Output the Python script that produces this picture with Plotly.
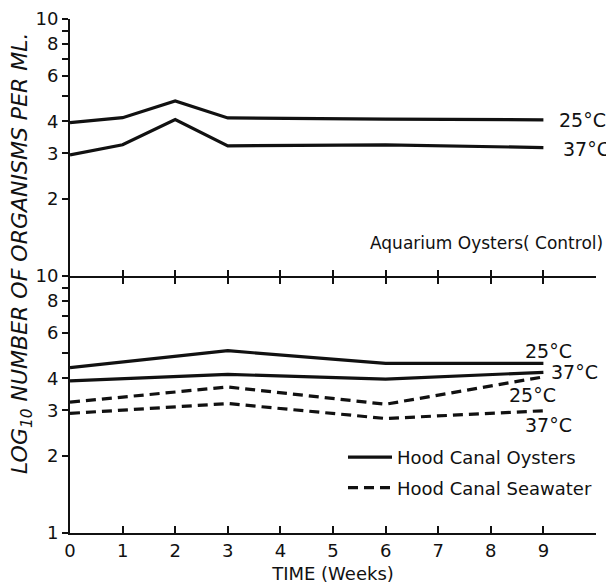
import math
import plotly.graph_objects as go

# ---------------- data ----------------
weeks_ctrl = [0, 1, 2, 3, 6, 9]
ctrl_25 = [3.95, 4.13, 4.80, 4.12, 4.08, 4.05]
ctrl_37 = [2.96, 3.24, 4.06, 3.21, 3.24, 3.16]

weeks_hc = [0, 3, 6, 9]
oysters_25 = [4.40, 5.12, 4.57, 4.57]
oysters_37 = [3.91, 4.14, 3.97, 4.22]
seawater_25 = [3.23, 3.70, 3.17, 4.05]
seawater_37 = [2.92, 3.19, 2.79, 2.99]

x_ticks = [0, 1, 2, 3, 4, 5, 6, 7, 8, 9]
y_ticks = [1, 2, 3, 4, 5, 6, 7, 8, 9, 10]
y_ticktext_low = ["1", "2", "3", "4", " ", "6", " ", "8", " ", "10"]
y_ticktext_up = [" ", "2", "3", "4", " ", "6", " ", "8", " ", "10"]

FONT = "DejaVu Sans"
INK = "#111111"
LW = 3.2
DASH = "10px,6px"

fig = go.Figure()

# upper panel (Aquarium oysters control)
fig.add_trace(go.Scatter(x=weeks_ctrl, y=ctrl_25, mode="lines", xaxis="x2", yaxis="y2",
                         line=dict(color=INK, width=LW), showlegend=False))
fig.add_trace(go.Scatter(x=weeks_ctrl, y=ctrl_37, mode="lines", xaxis="x2", yaxis="y2",
                         line=dict(color=INK, width=LW), showlegend=False))
fig.add_trace(go.Scatter(x=[None], y=[None], mode="lines", xaxis="x3", yaxis="y2",
                         showlegend=False, hoverinfo="skip"))

# lower panel (Hood Canal)
fig.add_trace(go.Scatter(x=weeks_hc, y=oysters_25, mode="lines", name="Hood Canal Oysters",
                         legendgroup="oys", showlegend=True,
                         line=dict(color=INK, width=LW)))
fig.add_trace(go.Scatter(x=weeks_hc, y=oysters_37, mode="lines", name="Hood Canal Oysters",
                         legendgroup="oys", showlegend=False,
                         line=dict(color=INK, width=LW)))
fig.add_trace(go.Scatter(x=weeks_hc, y=seawater_25, mode="lines", name="Hood Canal Seawater",
                         legendgroup="sw", showlegend=True,
                         line=dict(color=INK, width=LW, dash=DASH)))
fig.add_trace(go.Scatter(x=weeks_hc, y=seawater_37, mode="lines", name="Hood Canal Seawater",
                         legendgroup="sw", showlegend=False,
                         line=dict(color=INK, width=LW, dash=DASH)))

tickfont = dict(family=FONT, size=18, color=INK)

yaxis_common = dict(type="log", range=[0, 1], showline=True, linecolor=INK, linewidth=2,
                    ticks="outside", ticklen=6, tickwidth=2, tickcolor=INK,
                    showgrid=False, zeroline=False, tickfont=tickfont, automargin=False,
                    ticklabeloverflow="allow",
                    tickmode="array", tickvals=y_ticks, fixedrange=True)

# page body has an 8px margin, so the figure is sized to fit the 614x588 window
fig.update_layout(
    width=606, height=580,
    margin=dict(l=62, r=18, t=11, b=55, autoexpand=False),
    paper_bgcolor="white", plot_bgcolor="white",
    xaxis=dict(domain=[0, 1], range=[0, 10], anchor="y", showline=True, linecolor=INK,
               linewidth=2, ticks="inside", ticklen=7, tickwidth=2, tickcolor=INK,
               tickmode="array", tickvals=x_ticks, showgrid=False, zeroline=False,
               tickfont=tickfont, automargin=False,
               title=dict(text="TIME (Weeks)", font=dict(family=FONT, size=18, color=INK),
                          standoff=8)),
    xaxis2=dict(domain=[0, 1], range=[0, 10], anchor="y2", showline=True, linecolor=INK,
                linewidth=2, ticks="outside", ticklen=6, tickwidth=2, tickcolor=INK,
                tickmode="array", tickvals=x_ticks[1:], showticklabels=False,
                showgrid=False, zeroline=False, automargin=False),
    xaxis3=dict(range=[0, 10], anchor="y2", overlaying="x2", side="bottom", showline=False,
                ticks="inside", ticklen=6, tickwidth=2, tickcolor=INK,
                tickmode="array", tickvals=x_ticks[1:], showticklabels=False,
                showgrid=False, zeroline=False, automargin=False),
    yaxis=dict(domain=[0, 0.5], anchor="x", ticktext=y_ticktext_low, **yaxis_common),
    yaxis2=dict(domain=[0.5, 1], anchor="x2", ticktext=y_ticktext_up, **yaxis_common),
    showlegend=True,
    legend=dict(x=0.519, y=0.183, xanchor="left", yanchor="top",
                font=dict(family=FONT, size=18, color=INK),
                bgcolor="rgba(0,0,0,0)", tracegroupgap=4, itemwidth=44),
)

def ann(x, val, text, xref, yref, size=19, anchor="left"):
    fig.add_annotation(x=x, y=math.log10(val), xref=xref, yref=yref, text=text,
                       showarrow=False, xanchor=anchor, yanchor="middle",
                       font=dict(family=FONT, size=size, color=INK))

# upper labels
ann(9.26, 4.05, "25°C", "x2", "y2")
ann(9.33, 3.13, "37°C", "x2", "y2")
ann(1.018, 1.34, "Aquarium Oysters( Control)", "paper", "y2", size=17, anchor="right")

# lower labels
ann(8.61, 5.11, "25°C", "x", "y")
ann(9.11, 4.23, "37°C", "x", "y")
ann(8.31, 3.44, "25°C", "x", "y")
ann(8.61, 2.63, "37°C", "x", "y")

# y-axis title spanning both panels
fig.add_annotation(x=-0.091, y=0.545, xref="paper", yref="paper", textangle=-90,
                   text="<i>LOG<sub>10</sub> NUMBER OF ORGANISMS PER ML.</i>",
                   showarrow=False, xanchor="center", yanchor="middle",
                   font=dict(family=FONT, size=22, color=INK))

fig.write_html("out.html")
